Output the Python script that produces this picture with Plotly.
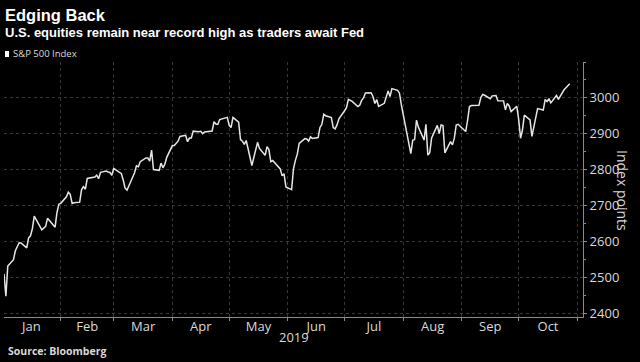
import plotly.graph_objects as go

# S&P 500 daily closes, 2019 (Jan 2 - Oct 28)
days = {
    "01": ["02","03","04","07","08","09","10","11","14","15","16","17","18","22","23","24","25","28","29","30","31"],
    "02": ["01","04","05","06","07","08","11","12","13","14","15","19","20","21","22","25","26","27","28"],
    "03": ["01","04","05","06","07","08","11","12","13","14","15","18","19","20","21","22","25","26","27","28","29"],
    "04": ["01","02","03","04","05","08","09","10","11","12","15","16","17","18","22","23","24","25","26","29","30"],
    "05": ["01","02","03","06","07","08","09","10","13","14","15","16","17","20","21","22","23","24","28","29","30","31"],
    "06": ["03","04","05","06","07","10","11","12","13","14","17","18","19","20","21","24","25","26","27","28"],
    "07": ["01","02","03","05","08","09","10","11","12","15","16","17","18","19","22","23","24","25","26","29","30","31"],
    "08": ["01","02","05","06","07","08","09","12","13","14","15","16","19","20","21","22","23","26","27","28","29","30"],
    "09": ["03","04","05","06","09","10","11","12","13","16","17","18","19","20","23","24","25","26","27","30"],
    "10": ["01","02","03","04","07","08","09","10","11","14","15","16","17","18","21","22","23","24","25","28"],
}
values = [
    2510.03, 2447.89, 2531.94, 2549.69, 2574.41, 2584.96, 2596.64, 2596.26, 2582.61, 2610.30, 2616.10,
    2635.96, 2670.71, 2632.90, 2638.70, 2642.33, 2664.76, 2643.85, 2640.00, 2681.05, 2704.10,
    2706.53, 2724.87, 2737.70, 2731.61, 2706.05, 2707.88, 2709.80, 2744.73, 2753.03, 2745.73,
    2775.60, 2779.76, 2784.70, 2774.88, 2792.67, 2796.11, 2793.90, 2792.38, 2784.49,
    2803.69, 2792.81, 2789.65, 2771.45, 2748.93, 2743.07, 2783.30, 2791.52, 2810.92, 2808.48,
    2822.48, 2832.94, 2832.57, 2824.23, 2854.88, 2800.71, 2798.36, 2818.46, 2805.37, 2815.44, 2834.40,
    2867.19, 2867.24, 2873.40, 2879.39, 2892.74, 2895.77, 2878.20, 2888.21, 2888.32, 2907.41,
    2905.58, 2907.06, 2900.45, 2905.03, 2907.97, 2933.68, 2927.25, 2926.17, 2939.88, 2943.03, 2945.83,
    2923.73, 2917.52, 2945.64, 2932.47, 2884.05, 2879.42, 2870.72, 2881.40, 2811.87, 2834.41, 2850.96,
    2876.32, 2859.53, 2840.23, 2864.36, 2856.27, 2822.24, 2826.06, 2802.39, 2783.02, 2788.86, 2752.06,
    2744.45, 2803.27, 2826.15, 2843.49, 2873.34, 2886.73, 2885.72, 2879.84, 2891.64, 2886.98,
    2889.67, 2917.75, 2926.46, 2954.18, 2950.46, 2945.35, 2917.38, 2913.78, 2924.92, 2941.76,
    2964.33, 2973.01, 2995.82, 2990.41, 2975.95, 2979.63, 2993.07, 2999.91, 3013.77, 3014.30, 3004.04,
    2984.42, 2995.11, 2976.61, 2985.03, 3005.47, 3019.56, 3003.67, 3025.86, 3020.97, 3013.18, 2980.38,
    2953.56, 2932.05, 2844.74, 2881.77, 2883.98, 2938.09, 2918.65, 2882.70, 2926.32, 2840.60, 2847.60,
    2888.68, 2923.65, 2900.51, 2924.43, 2922.95, 2847.11, 2878.38, 2869.16, 2887.94, 2924.58, 2926.46,
    2906.27, 2937.78, 2976.00, 2978.71, 2978.43, 2979.39, 3000.93, 3009.57, 3007.39, 2997.96,
    3005.70, 3006.73, 3006.79, 2992.07, 2991.78, 2966.60, 2984.87, 2977.62, 2961.79, 2976.74,
    2940.25, 2887.61, 2910.63, 2952.01, 2938.79, 2893.06, 2919.40, 2938.13, 2970.27, 2966.15,
    2995.68, 2989.69, 2997.95, 2986.20, 3006.72, 2995.99, 3004.52, 3010.29, 3022.55, 3039.42,
]
dates = [f"2019-{m}-{d}" for m, ds in days.items() for d in ds]

y_ticks = [2400, 2500, 2600, 2700, 2800, 2900, 3000]

GRID = "#383838"
TXT = "#d9d9d9"
TICKFONT = "Liberation Sans Narrow, Open Sans, sans-serif"

W, H = 640, 362
ML, MR, MT, MB = 4, 57, 62, 45

fig = go.Figure()
fig.add_trace(go.Scatter(x=dates, y=values, mode="lines", name="S&P 500 Index",
                         line=dict(color="#e6e6e6", width=1.5), showlegend=False))

fig.update_layout(
    width=W, height=H,
    paper_bgcolor="black", plot_bgcolor="black",
    margin=dict(l=ML, r=MR, t=MT, b=MB, autoexpand=False),
    font=dict(family="Liberation Sans", color=TXT, size=11),
    xaxis=dict(
        range=["2019-01-02", "2019-11-04"],
        dtick="M1", tick0="2019-01-01", tickformat="%b", ticklabelmode="period",
        showgrid=True, gridcolor=GRID, griddash="dot", gridwidth=1,
        showline=True, linecolor="#8a8a8a", linewidth=1,
        ticks="outside", ticklen=3, tickcolor="#8a8a8a",
        ticklabelstandoff=-6,
        tickfont=dict(size=13, color=TXT, family=TICKFONT),
        zeroline=False,
    ),
    yaxis=dict(
        range=[2390, 3100], side="right",
        tickvals=y_ticks,
        showgrid=True, gridcolor=GRID, griddash="dot", gridwidth=1,
        showline=True, linecolor="#8a8a8a", linewidth=1,
        ticks="outside", ticklen=3, tickcolor="#8a8a8a",
        minor=dict(dtick=50, tick0=2400, ticks="outside", ticklen=2, tickcolor="#8a8a8a", showgrid=False),
        tickfont=dict(size=13, color=TXT, family=TICKFONT),
        zeroline=False,
    ),
    showlegend=False,
)


def pix(x, y):
    # convert pixel coords to paper coords
    pw, ph = W - ML - MR, H - MT - MB
    return (x - ML) / pw, (H - MB - y) / ph


for text, x, y, size, color, fam, xa in [
    ("<b>Edging Back</b>", 3, 15, 16.5, "white", "Liberation Sans", "left"),
    ("<b>U.S. equities remain near record high as traders await Fed</b>", 3, 33, 13, "white", "Liberation Sans", "left"),
    ("S&P 500 Index", 11, 54, 9.5, TXT, "Open Sans", "left"),
    ("2019", 294, 337, 13, TXT, TICKFONT, "center"),
    ("<b>Source: Bloomberg</b>", 6, 351, 10.5, TXT, "Open Sans", "left"),
]:
    px_, py_ = pix(x, y)
    fig.add_annotation(text=text, xref="paper", yref="paper", x=px_, y=py_,
                       xanchor=xa, yanchor="middle", showarrow=False,
                       font=dict(size=size, color=color, family=fam))

px_, py_ = pix(623, 190)
fig.add_annotation(text="Index points", xref="paper", yref="paper", x=px_, y=py_,
                   xanchor="center", yanchor="middle", showarrow=False, textangle=90,
                   font=dict(size=14, color=TXT, family=TICKFONT))

x0, y0 = pix(5, 51)
x1, y1 = pix(9, 57)
fig.add_shape(type="rect", xref="paper", yref="paper", x0=x0, y0=y0, x1=x1, y1=y1,
              fillcolor="white", line=dict(width=0))

fig.write_html("out.html", config={"displayModeBar": False},
               post_script="document.body.style.margin='0';")
